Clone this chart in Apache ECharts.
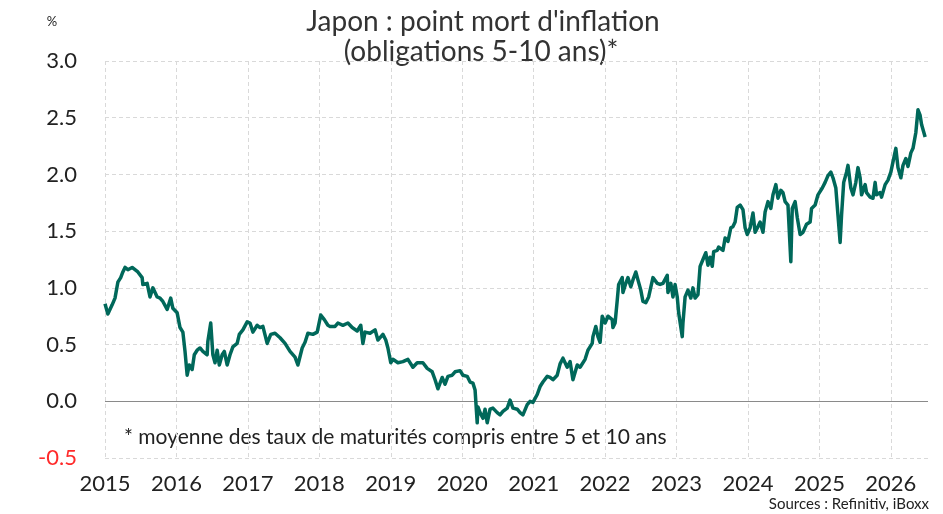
<!DOCTYPE html>
<html>
<head>
<meta charset="utf-8">
<script src="https://cdn.jsdelivr.net/npm/echarts@6/dist/echarts.min.js"></script>
<style>
  html, body { margin: 0; padding: 0; background: #ffffff; }
  #chart { width: 943px; height: 514px; }
</style>
</head>
<body>
<div id="chart"></div>
<script>
// Japanese 5-10y breakeven inflation, observation dates as decimal years
const years = [
  2015.00, 2015.04, 2015.10, 2015.14, 2015.18, 2015.22, 2015.25, 2015.28, 2015.32, 2015.38,
  2015.42, 2015.46, 2015.52, 2015.53, 2015.59, 2015.63, 2015.67, 2015.73, 2015.77, 2015.81,
  2015.87, 2015.92, 2015.95, 2016.01, 2016.05, 2016.09, 2016.12, 2016.15, 2016.18, 2016.22,
  2016.25, 2016.29, 2016.33, 2016.37, 2016.43, 2016.44, 2016.48, 2016.51, 2016.54, 2016.57,
  2016.60, 2016.64, 2016.67, 2016.71, 2016.75, 2016.79, 2016.85, 2016.88, 2016.93, 2016.99,
  2017.03, 2017.07, 2017.13, 2017.17, 2017.21, 2017.27, 2017.32, 2017.38, 2017.45, 2017.52,
  2017.59, 2017.66, 2017.70, 2017.76, 2017.80, 2017.84, 2017.91, 2017.97, 2018.02, 2018.07,
  2018.12, 2018.15, 2018.22, 2018.26, 2018.33, 2018.40, 2018.46, 2018.53, 2018.58, 2018.61,
  2018.64, 2018.71, 2018.78, 2018.82, 2018.89, 2018.93, 2018.96, 2019.00, 2019.03, 2019.10,
  2019.17, 2019.24, 2019.31, 2019.37, 2019.45, 2019.51, 2019.58, 2019.62, 2019.66, 2019.72,
  2019.76, 2019.80, 2019.86, 2019.90, 2019.97, 2020.01, 2020.07, 2020.11, 2020.15, 2020.18,
  2020.21, 2020.22, 2020.25, 2020.29, 2020.32, 2020.35, 2020.39, 2020.43, 2020.49, 2020.53,
  2020.57, 2020.63, 2020.67, 2020.71, 2020.77, 2020.81, 2020.85, 2020.91, 2020.95, 2020.99,
  2021.05, 2021.09, 2021.13, 2021.19, 2021.23, 2021.27, 2021.33, 2021.37, 2021.41, 2021.47,
  2021.51, 2021.55, 2021.61, 2021.65, 2021.72, 2021.76, 2021.82, 2021.83, 2021.87, 2021.90,
  2021.93, 2021.96, 2022.00, 2022.04, 2022.10, 2022.11, 2022.14, 2022.17, 2022.19, 2022.24,
  2022.25, 2022.29, 2022.32, 2022.36, 2022.39, 2022.43, 2022.46, 2022.50, 2022.53, 2022.57,
  2022.61, 2022.67, 2022.73, 2022.77, 2022.81, 2022.87, 2022.88, 2022.92, 2022.95, 2022.98,
  2023.01, 2023.03, 2023.08, 2023.09, 2023.12, 2023.16, 2023.20, 2023.23, 2023.26, 2023.30,
  2023.33, 2023.37, 2023.41, 2023.44, 2023.47, 2023.50, 2023.52, 2023.57, 2023.59, 2023.65,
  2023.68, 2023.72, 2023.76, 2023.79, 2023.82, 2023.85, 2023.89, 2023.93, 2023.96, 2023.99,
  2024.03, 2024.07, 2024.10, 2024.14, 2024.17, 2024.21, 2024.24, 2024.28, 2024.32, 2024.35,
  2024.39, 2024.42, 2024.46, 2024.49, 2024.52, 2024.56, 2024.60, 2024.62, 2024.66, 2024.69,
  2024.73, 2024.77, 2024.82, 2024.87, 2024.89, 2024.94, 2024.98, 2025.04, 2025.08, 2025.12,
  2025.16, 2025.19, 2025.23, 2025.26, 2025.29, 2025.31, 2025.34, 2025.38, 2025.40, 2025.44,
  2025.47, 2025.51, 2025.54, 2025.57, 2025.59, 2025.64, 2025.66, 2025.71, 2025.75, 2025.78,
  2025.80, 2025.85, 2025.87, 2025.92, 2025.96, 2026.00, 2026.03, 2026.07, 2026.10, 2026.14,
  2026.17, 2026.21, 2026.24, 2026.28, 2026.31, 2026.35, 2026.38, 2026.41, 2026.43, 2026.48
];

const breakeven = [
  0.86, 0.77, 0.85, 0.91, 1.05, 1.09, 1.14, 1.18, 1.16, 1.18,
  1.16, 1.14, 1.09, 1.03, 1.04, 0.92, 1.00, 0.92, 0.91, 0.88,
  0.81, 0.91, 0.82, 0.78, 0.65, 0.61, 0.44, 0.23, 0.32, 0.28,
  0.41, 0.45, 0.47, 0.44, 0.41, 0.53, 0.69, 0.41, 0.34, 0.45,
  0.32, 0.41, 0.44, 0.32, 0.41, 0.48, 0.51, 0.59, 0.63, 0.70,
  0.69, 0.61, 0.67, 0.65, 0.66, 0.51, 0.59, 0.60, 0.56, 0.51,
  0.44, 0.39, 0.32, 0.47, 0.52, 0.60, 0.59, 0.61, 0.76, 0.72,
  0.67, 0.66, 0.66, 0.69, 0.67, 0.69, 0.65, 0.62, 0.67, 0.51,
  0.61, 0.60, 0.63, 0.54, 0.59, 0.54, 0.47, 0.34, 0.37, 0.34,
  0.35, 0.37, 0.30, 0.34, 0.34, 0.29, 0.26, 0.19, 0.11, 0.21,
  0.15, 0.22, 0.23, 0.26, 0.27, 0.23, 0.22, 0.17, 0.16, 0.10,
  -0.19, -0.05, -0.10, -0.15, -0.07, -0.19, -0.07, -0.06, -0.10, -0.12,
  -0.09, -0.06, 0.01, -0.06, -0.07, -0.10, -0.12, -0.03, 0.00, -0.01,
  0.06, 0.13, 0.17, 0.22, 0.21, 0.19, 0.23, 0.33, 0.38, 0.30,
  0.35, 0.19, 0.32, 0.30, 0.37, 0.45, 0.51, 0.57, 0.66, 0.57,
  0.52, 0.75, 0.69, 0.75, 0.72, 0.65, 0.69, 0.89, 1.03, 1.09,
  0.96, 1.04, 1.09, 1.01, 1.07, 1.14, 1.07, 0.98, 0.88, 0.87,
  0.92, 1.09, 1.04, 1.03, 1.04, 1.11, 0.96, 1.04, 0.92, 1.03,
  0.92, 0.78, 0.57, 0.69, 0.92, 0.98, 0.91, 1.00, 0.91, 0.94,
  1.19, 1.25, 1.31, 1.20, 1.27, 1.19, 1.32, 1.33, 1.36, 1.33,
  1.44, 1.41, 1.53, 1.54, 1.58, 1.71, 1.73, 1.69, 1.53, 1.47,
  1.53, 1.66, 1.49, 1.54, 1.58, 1.49, 1.67, 1.76, 1.70, 1.82,
  1.91, 1.79, 1.86, 1.84, 1.76, 1.73, 1.23, 1.70, 1.76, 1.62,
  1.47, 1.49, 1.56, 1.58, 1.70, 1.73, 1.82, 1.88, 1.93, 1.99,
  2.02, 1.97, 1.88, 1.64, 1.40, 1.64, 1.93, 2.02, 2.08, 1.88,
  1.82, 1.93, 2.06, 1.97, 1.82, 1.91, 1.84, 1.80, 1.79, 1.93,
  1.82, 1.84, 1.80, 1.91, 1.95, 2.02, 2.11, 2.23, 2.06, 1.97,
  2.08, 2.14, 2.07, 2.19, 2.23, 2.37, 2.57, 2.52, 2.44, 2.33
];

// Axis labels
const yearTicks = [2015, 2016, 2017, 2018, 2019, 2020, 2021, 2022, 2023, 2024, 2025, 2026];
const valueTicks = [-0.5, 0.0, 0.5, 1.0, 1.5, 2.0, 2.5, 3.0];

const titleLines = ["Japon : point mort d'inflation", "(obligations 5-10 ans)*"];
const unitLabel = '%';
const footnote = '* moyenne des taux de maturités compris entre 5 et 10 ans';
const sourceNote = 'Sources : Refinitiv, iBoxx';

const FONT = 'Lato, "Noto Sans", sans-serif';
const LINE_COLOR = '#00685a';
const GRID_COLOR = '#d9d9d9';
const TEXT_COLOR = '#222222';

const seriesData = years.map((y, i) => [y, breakeven[i]]);

const chart = echarts.init(document.getElementById('chart'), null, { renderer: 'canvas' });

chart.setOption({
  animation: false,
  backgroundColor: '#ffffff',
  grid: { left: 105, right: 15, top: 61, bottom: 56, containLabel: false },
  xAxis: {
    type: 'value',
    min: yearTicks[0],
    max: 2026.52,
    interval: 1,
    axisLine: { show: false },
    axisTick: { show: false },
    axisLabel: {
      margin: 15,
      fontFamily: FONT,
      fontSize: 22,
      color: TEXT_COLOR,
      formatter: v => (yearTicks.indexOf(Math.round(v)) >= 0 && Math.abs(v - Math.round(v)) < 1e-6) ? String(Math.round(v)) : ''
    },
    splitLine: {
      show: true,
      showMaxLine: false,
      lineStyle: { color: GRID_COLOR, type: [4, 3], width: 1 }
    }
  },
  yAxis: {
    type: 'value',
    min: valueTicks[0],
    max: valueTicks[valueTicks.length - 1],
    interval: 0.5,
    axisLine: { show: false },
    axisTick: { show: false },
    axisLabel: {
      margin: 28,
      fontFamily: FONT,
      fontSize: 22,
      formatter: v => v < 0 ? '{neg|' + v.toFixed(1) + '}' : '{pos|' + v.toFixed(1) + '}',
      rich: {
        pos: { color: TEXT_COLOR, fontFamily: FONT, fontSize: 22 },
        neg: { color: '#ff2a2a', fontFamily: FONT, fontSize: 22 }
      }
    },
    splitLine: {
      show: true,
      lineStyle: { color: GRID_COLOR, type: [4, 3], width: 1 }
    }
  },
  series: [{
    type: 'line',
    data: seriesData,
    showSymbol: false,
    symbol: 'none',
    lineStyle: { color: LINE_COLOR, width: 3.5, join: 'round' },
    z: 3,
    markLine: {
      silent: true,
      symbol: 'none',
      label: { show: false },
      lineStyle: { color: '#8a8a8a', type: 'solid', width: 1.2 },
      data: [{ yAxis: 0 }],
      z: 2
    }
  }],
  graphic: [
    {
      type: 'text', x: 483, y: 22,
      style: { text: titleLines[0], align: 'center', verticalAlign: 'middle', fontFamily: FONT, fontWeight: 'normal', fontSize: 28, fill: '#333333' }
    },
    {
      type: 'text', x: 481, y: 52,
      style: { text: titleLines[1], align: 'center', verticalAlign: 'middle', fontFamily: FONT, fontWeight: 'normal', fontSize: 28, fill: '#333333' }
    },
    {
      type: 'text', x: 52, y: 22,
      style: { text: unitLabel, align: 'center', verticalAlign: 'middle', fontFamily: FONT, fontSize: 13, fill: TEXT_COLOR }
    },
    {
      type: 'text', x: 124, y: 437,
      style: { text: footnote, align: 'left', verticalAlign: 'middle', fontFamily: FONT, fontSize: 21, fill: TEXT_COLOR }
    },
    {
      type: 'text', x: 929, y: 504,
      style: { text: sourceNote, align: 'right', verticalAlign: 'middle', fontFamily: FONT, fontSize: 15, fill: TEXT_COLOR }
    }
  ]
});
</script>
</body>
</html>
